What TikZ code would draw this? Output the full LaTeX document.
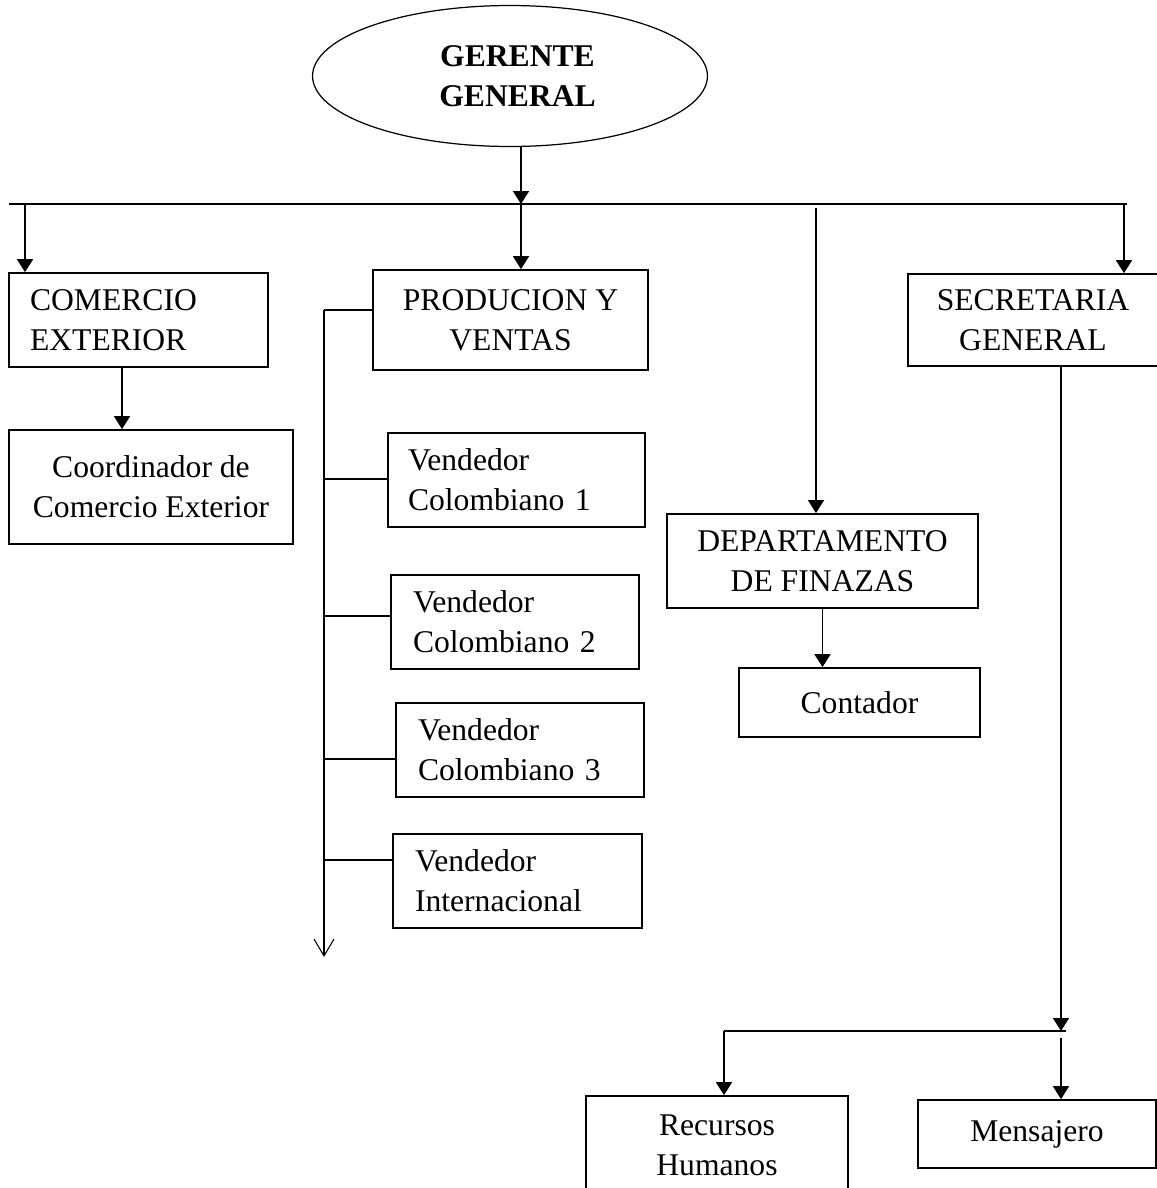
\documentclass[tikz,border=0pt]{standalone}
\usepackage{fontspec}
\setmainfont{Liberation Serif}
\usetikzlibrary{shapes.geometric,arrows.meta}

\begin{document}
\begin{tikzpicture}[x=0.02cm,y=-0.02cm,
  caja/.style={draw, line width=1pt, rectangle, align=center, inner sep=0pt,
    font=\fontsize{18}{22.8}\selectfont},
  flecha/.style={line width=1pt, -{Triangle[length=0.26cm,width=0.32cm]}},
  fina/.style={line width=0.6pt}]
\useasboundingbox (0,0) rectangle (1157,1188);
% Define the nodes
\node[ellipse, draw, line width=0.7pt, minimum width=7.9cm, minimum height=2.82cm, inner sep=0pt,
  align=center, font=\fontsize{18}{22.8}\selectfont\bfseries] at (510,76) (gg) {\hspace*{0.3cm}GERENTE\\\hspace*{0.3cm}GENERAL};
\node[caja, minimum height=1.88cm, align=left, inner xsep=0.42cm, text width=4.34cm] at (138.5,320) (comercio) {COMERCIO\\EXTERIOR};
\node[caja, minimum width=5.68cm, minimum height=2.28cm] at (151,487) (coord) {Coordinador de\\Comercio Exterior};
\node[caja, minimum width=5.5cm, minimum height=2cm] at (510.5,320) (pv) {PRODUCION Y\\VENTAS};
\node[caja, minimum height=1.88cm, align=left, inner xsep=0.4cm, text width=4.34cm] at (516.5,480) (v1) {Vendedor\\Colombiano 1};
\node[caja, minimum height=1.88cm, align=left, inner xsep=0.44cm, text width=4.08cm] at (515,622) (v2) {Vendedor\\Colombiano 2};
\node[caja, minimum height=1.88cm, align=left, inner xsep=0.44cm, text width=4.08cm] at (520,750) (v3) {Vendedor\\Colombiano 3};
\node[caja, minimum height=1.88cm, align=left, inner xsep=0.44cm, text width=4.1cm] at (517.5,881) (vi) {Vendedor\\Internacional};
\node[caja, minimum width=6.22cm, minimum height=1.88cm] at (822.5,561) (dept) {DEPARTAMENTO\\DE FINAZAS};
\node[caja, minimum width=4.82cm, minimum height=1.38cm] at (859.5,702.5) (cont) {Contador};
\node[caja, minimum width=5cm, minimum height=1.84cm] at (1033,320) (secr) {SECRETARIA\\GENERAL};
\node[caja, minimum width=5.24cm, minimum height=1.96cm] at (717,1145) (rh) {Recursos\\Humanos};
\node[caja, minimum width=4.76cm, minimum height=1.36cm] at (1037,1134) (mens) {Mensajero};
% Points on the lines
\coordinate (busL) at (9,204);
\coordinate (busR) at (1127,204);
\coordinate (b1) at (25,204);
\coordinate (b2) at (521,204);
\coordinate (b3) at (816,208);
\coordinate (b4) at (1124,204);
\coordinate (c1) at ([xshift=-0.33cm]comercio.south);
\coordinate (p0) at (324,310);
\coordinate (pfin) at (324,957);
\coordinate (r1) at (324,479);
\coordinate (r2) at (324,616);
\coordinate (r3) at (324,759);
\coordinate (r4) at (324,860);
\coordinate (s0) at (1061,1031);
\coordinate (s2) at (1061,1038);
\coordinate (h1) at (724,1031);
\coordinate (h2) at (1066,1031);
% Draw the paths
\draw[line width=1pt] (busL) -- (busR);
\draw[flecha] (gg.south -| b2) -- (b2);
\draw[flecha] (b1) -- (b1 |- comercio.north);
\draw[flecha] (b2) -- (b2 |- pv.north);
\draw[fina, -{Triangle[length=0.26cm,width=0.32cm]}] (b3) -- (b3 |- dept.north);
\draw[flecha] (b4) -- (b4 |- secr.north);
\draw[flecha] (c1) -- (c1 |- coord.north);
\draw[flecha] (dept.south) -- (dept.south |- cont.north);
\draw[fina] (p0 -| pv.west) -- (p0);
\draw[fina, -{Straight Barb[length=0.34cm,width=0.4cm]}] (p0) -- (pfin);
\draw[fina] (r1) -- (r1 -| v1.west);
\draw[fina] (r2) -- (r2 -| v2.west);
\draw[fina] (r3) -- (r3 -| v3.west);
\draw[fina] (r4) -- (r4 -| vi.west);
\draw[flecha] (s0 |- secr.south) -- (s0);
\draw[line width=0.8pt] (h1) -- (h2);
\draw[flecha] (h1) -- (h1 |- rh.north);
\draw[flecha] (s2) -- (s2 |- mens.north);
\end{tikzpicture}
\end{document}
